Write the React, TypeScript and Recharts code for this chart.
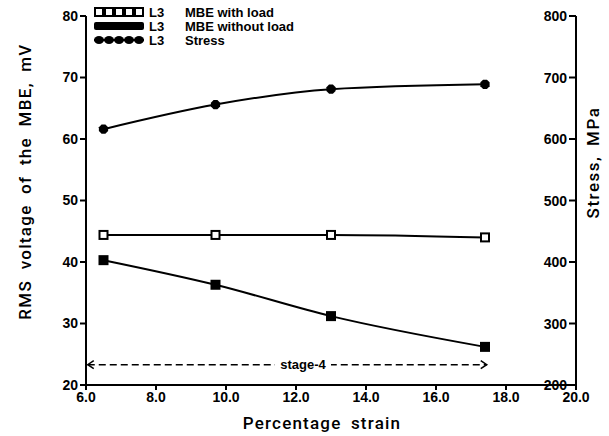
import { LineChart, Line, XAxis, YAxis, ReferenceLine, Legend } from "recharts";

// values
const strain = [6.5, 9.7, 13.0, 17.4];
const mbeWithLoad = [44.4, 44.4, 44.4, 44.0];
const mbeWithoutLoad = [40.3, 36.3, 31.2, 26.2];
const stress = [616, 656, 681, 689];

const strainTicks = [6, 8, 10, 12, 14, 16, 18, 20];
const voltageTicks = [20, 30, 40, 50, 60, 70, 80];
const stressTicks = [200, 300, 400, 500, 600, 700, 800];

const stageSpan = [6.05, 17.45];
const stageLevel = 23.3;
const stageLabelAt = 12.2;
const stageLabel = "stage-4";

const legendRows = [
  { id: "L3", name: "MBE with load", kind: "open" },
  { id: "L3", name: "MBE without load", kind: "solid" },
  { id: "L3", name: "Stress", kind: "dot" },
];

const data = strain.map((s, i) => ({
  strain: s,
  withLoad: mbeWithLoad[i],
  withoutLoad: mbeWithoutLoad[i],
  stress: stress[i],
}));

const FONT = "'Liberation Sans', Arial, sans-serif";
const LABEL_FONT = "Roboto, 'Liberation Sans', Arial, sans-serif";
const tickStyle = { fontFamily: FONT, fontSize: 14, fontWeight: 700, fill: "#000" };
const labelStyle = { fontFamily: LABEL_FONT, fontSize: 17, fontWeight: 500, fill: "#000" };

const OpenSquare = (p: any) => (
  <rect key={`o-${p.index}`} x={p.cx - 4} y={p.cy - 4} width={8} height={8}
    fill="#fff" stroke="#000" strokeWidth={2} />
);
const SolidSquare = (p: any) => (
  <rect key={`s-${p.index}`} x={p.cx - 5} y={p.cy - 5} width={10} height={10} fill="#000" />
);
const Octagon = (p: any) => {
  const r = 5;
  const pts = Array.from({ length: 8 }, (_, k) => {
    const a = (Math.PI / 8) * (2 * k + 1);
    return `${p.cx + r * Math.cos(a)},${p.cy + r * Math.sin(a)}`;
  }).join(" ");
  return <polygon key={`d-${p.index}`} points={pts} fill="#000" />;
};

// right axis: ticks and numbers sit inside the plot
const RightTick = (p: any) => (
  <g>
    <line x1={p.x - 7} y1={p.y} x2={p.x} y2={p.y} stroke="#000" strokeWidth={2} />
    <text x={p.x - 9} y={p.y + 5} textAnchor="end" {...tickStyle}>
      {p.payload.value}
    </text>
  </g>
);

const LegendMark = ({ kind }: { kind: string }) => {
  if (kind === "solid") {
    return <svg width={50} height={10}><rect x={0} y={1} width={50} height={8} rx={2} fill="#000" /></svg>;
  }
  if (kind === "open") {
    return (
      <svg width={50} height={10}>
        {[0, 1, 2, 3, 4].map((k) => (
          <rect key={k} x={1 + k * 10} y={1} width={8} height={8} fill="#fff" stroke="#000" strokeWidth={2} />
        ))}
      </svg>
    );
  }
  return (
    <svg width={50} height={10}>
      <rect x={0} y={4} width={50} height={2} fill="#000" />
      {[0, 1, 2, 3, 4].map((k) => (
        <ellipse key={k} cx={5 + k * 10} cy={5} rx={5} ry={4} fill="#000" />
      ))}
    </svg>
  );
};

const renderLegend = () => (
  <div style={{ fontFamily: FONT, fontSize: 13, fontWeight: 700, lineHeight: "13px" }}>
    {legendRows.map((r, i) => (
      <div key={i} style={{ display: "flex", alignItems: "center", height: 14 }}>
        <LegendMark kind={r.kind} />
        <span style={{ marginLeft: 5, width: 36 }}>{r.id}</span>
        <span>{r.name}</span>
      </div>
    ))}
  </div>
);

const StageArrow = (p: any) => {
  const { x1, y1, x2 } = p;
  const tx = x1 + ((x2 - x1) * (stageLabelAt - stageSpan[0])) / (stageSpan[1] - stageSpan[0]);
  return (
    <g>
      <line x1={x1} y1={y1} x2={x2} y2={y1} stroke="#000" strokeWidth={1.5} strokeDasharray="7 4" />
      <polyline points={`${x1 + 6},${y1 - 4} ${x1},${y1} ${x1 + 6},${y1 + 4}`} fill="none" stroke="#000" strokeWidth={1.5} />
      <polyline points={`${x2 - 6},${y1 - 4} ${x2},${y1} ${x2 - 6},${y1 + 4}`} fill="none" stroke="#000" strokeWidth={1.5} />
      <rect x={tx - 28} y={y1 - 8} width={56} height={16} fill="#fff" />
      <text x={tx} y={y1 + 4} textAnchor="middle" fontFamily={FONT} fontSize={13} fontWeight={700}>
        {stageLabel}
      </text>
    </g>
  );
};

export default function App() {
  return (
    <div style={{ position: "absolute", left: 0, top: 0, background: "#fff" }}>
      <LineChart width={609} height={436} data={data} margin={{ top: 16, right: 0, bottom: 0, left: 0 }}>
        <XAxis
          type="number"
          dataKey="strain"
          domain={[6, 20]}
          ticks={strainTicks}
          tickFormatter={(v: number) => v.toFixed(1)}
          height={51}
          stroke="#000"
          strokeWidth={2}
          tickSize={5}
          tick={tickStyle}
          label={{ value: "Percentage strain", position: "insideBottom", offset: 7, dx: -9,
            style: { ...labelStyle, letterSpacing: 1.2, wordSpacing: 4 } }}
        />
        <YAxis
          yAxisId="left"
          domain={[20, 80]}
          ticks={voltageTicks}
          width={86}
          stroke="#000"
          strokeWidth={2}
          tickSize={6}
          tick={tickStyle}
          label={{ value: "RMS voltage of the MBE, mV", angle: -90, position: "insideLeft", offset: 25, dy: -19,
            style: { ...labelStyle, letterSpacing: 1.3, wordSpacing: 5, textAnchor: "middle" } }}
        />
        <YAxis
          yAxisId="right"
          orientation="right"
          domain={[200, 800]}
          ticks={stressTicks}
          width={33}
          stroke="#000"
          strokeWidth={2}
          tickSize={0}
          tickMargin={0}
          tickLine={false}
          tick={RightTick}
          label={{ value: "Stress, MPa", angle: -90, position: "center", dy: -38,
            style: { ...labelStyle, letterSpacing: 1.5, wordSpacing: 4, textAnchor: "middle" } }}
        />
        <Legend layout="horizontal" verticalAlign="middle" content={renderLegend}
          wrapperStyle={{ position: "absolute", left: 94, top: 5, width: 260 }} />
        <ReferenceLine
          yAxisId="left"
          segment={[{ x: stageSpan[0], y: stageLevel }, { x: stageSpan[1], y: stageLevel }]}
          shape={StageArrow}
        />
        <Line yAxisId="left" type="monotone" dataKey="withLoad" stroke="#000" strokeWidth={2}
          dot={OpenSquare} isAnimationActive={false} />
        <Line yAxisId="left" type="monotone" dataKey="withoutLoad" stroke="#000" strokeWidth={2}
          dot={SolidSquare} isAnimationActive={false} />
        <Line yAxisId="right" type="monotone" dataKey="stress" stroke="#000" strokeWidth={2}
          dot={Octagon} isAnimationActive={false} />
      </LineChart>
    </div>
  );
}
